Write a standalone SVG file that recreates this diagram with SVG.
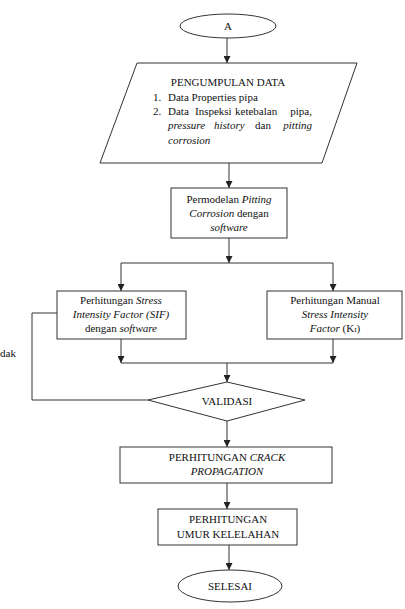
<svg xmlns="http://www.w3.org/2000/svg" width="405" height="609" viewBox="0 0 405 609" font-family="'Liberation Serif', 'Times New Roman', 'DejaVu Serif', serif">
<style>
.s{fill:#fff;stroke:#333;stroke-width:1}
.c{fill:none;stroke:#333;stroke-width:1}
text{font-family:'Liberation Serif','Times New Roman','DejaVu Serif',serif;font-size:11px;fill:#111}
.m{text-anchor:middle}
.e{text-anchor:end}
.i{font-style:italic}
</style>
<defs>
<marker id="ar" viewBox="0 0 8 8" refX="8" refY="4" markerWidth="7" markerHeight="7" markerUnits="userSpaceOnUse" orient="auto">
<path d="M0,0 L8,4 L0,8 z" fill="#222"/>
</marker>
</defs>
<rect width="405" height="609" fill="#fff"/>
<g id="connectors">
<line class="c" x1="227" y1="38" x2="227" y2="63" marker-end="url(#ar)"/>
<line class="c" x1="229" y1="163" x2="229" y2="188" marker-end="url(#ar)"/>
<line class="c" x1="229" y1="238" x2="229" y2="263" marker-end="url(#ar)"/>
<polyline class="c" points="121,263 333,263"/>
<line class="c" x1="121" y1="263" x2="121" y2="291" marker-end="url(#ar)"/>
<line class="c" x1="333" y1="263" x2="333" y2="291" marker-end="url(#ar)"/>
<line class="c" x1="121" y1="339" x2="121" y2="363" marker-end="url(#ar)"/>
<line class="c" x1="333" y1="339" x2="333" y2="363" marker-end="url(#ar)"/>
<line class="c" x1="121" y1="363" x2="333" y2="363"/>
<line class="c" x1="227" y1="363" x2="227" y2="382" marker-end="url(#ar)"/>
<polyline class="c" points="57,313 32,313 32,400 148,400"/>
<line class="c" x1="227" y1="421" x2="227" y2="447" marker-end="url(#ar)"/>
<line class="c" x1="227" y1="483" x2="227" y2="509" marker-end="url(#ar)"/>
<line class="c" x1="229" y1="545" x2="229" y2="570" marker-end="url(#ar)"/>
<text x="0" y="357">dak</text>
</g>
<g id="start">
<ellipse class="s" cx="228" cy="26" rx="48" ry="12"/>
<text class="m" x="228" y="30">A</text>
</g>
<g id="data">
<polygon class="s" points="137,63 357,63 322,163 100,163"/>
<text class="m" x="228" y="86">PENGUMPULAN DATA</text>
<text x="153" y="101">1.</text>
<text x="168" y="101">Data Properties pipa</text>
<text x="153" y="115">2.</text>
<text x="168" y="115">Data</text>
<text x="195" y="115">Inspeksi</text>
<text x="235" y="115">ketebalan</text>
<text class="e" x="312" y="115">pipa,</text>
<text class="i" x="168" y="129">pressure</text>
<text class="i" x="214" y="129">history</text>
<text x="255" y="129">dan</text>
<text class="i e" x="312" y="129">pitting</text>
<text class="i" x="168" y="144">corrosion</text>
</g>
<g id="model">
<rect class="s" x="171" y="188" width="116" height="50"/>
<text class="m" x="229" y="203">Permodelan <tspan class="i">Pitting</tspan></text>
<text class="m" x="229" y="217"><tspan class="i">Corrosion</tspan> dengan</text>
<text class="m i" x="229" y="231">software</text>
</g>
<g id="sif">
<rect class="s" x="57" y="291" width="129" height="48"/>
<text class="m" x="121" y="304">Perhitungan <tspan class="i">Stress</tspan></text>
<text class="m i" x="121" y="318">Intensity Factor (SIF)</text>
<text class="m" x="121" y="332">dengan <tspan class="i">software</tspan></text>
</g>
<g id="manual">
<rect class="s" x="267" y="291" width="135" height="48"/>
<text class="m" x="335" y="304">Perhitungan Manual</text>
<text class="m i" x="335" y="318">Stress Intensity</text>
<text class="m" x="335" y="332"><tspan class="i">Factor</tspan> (K<tspan font-size="7">I</tspan>)</text>
</g>
<g id="validasi">
<polygon class="s" points="148,400 227,382 305,400 227,421"/>
<text class="m" x="227" y="405">VALIDASI</text>
</g>
<g id="crack">
<rect class="s" x="120" y="447" width="212" height="36"/>
<text class="m" x="227" y="461">PERHITUNGAN <tspan class="i">CRACK</tspan></text>
<text class="m i" x="227" y="475">PROPAGATION</text>
</g>
<g id="umur">
<rect class="s" x="158" y="509" width="139" height="36"/>
<text class="m" x="228" y="523">PERHITUNGAN</text>
<text class="m" x="228" y="538">UMUR KELELAHAN</text>
</g>
<g id="end">
<ellipse class="s" cx="230" cy="586" rx="52" ry="16"/>
<text class="m" x="230" y="590">SELESAI</text>
</g>
</svg>
